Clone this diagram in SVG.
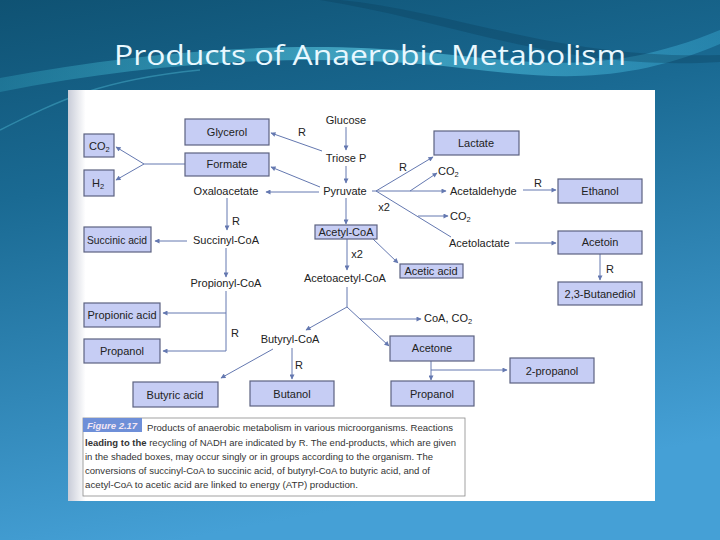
<svg xmlns="http://www.w3.org/2000/svg" width="720" height="540" viewBox="0 0 720 540">
<defs>
<linearGradient id="bg" x1="0" y1="0" x2="0.25" y2="1">
<stop offset="0" stop-color="#0f5273"/>
<stop offset="0.35" stop-color="#1a6a93"/>
<stop offset="1" stop-color="#45a0d6"/>
</linearGradient>
<linearGradient id="swoosh" x1="0" y1="0" x2="1" y2="0">
<stop offset="0" stop-color="#3fc0d8" stop-opacity="0.25"/>
<stop offset="0.5" stop-color="#5fd0e8" stop-opacity="0.6"/>
<stop offset="1" stop-color="#3fb8e0" stop-opacity="0.35"/>
</linearGradient>
<linearGradient id="scan" x1="0" y1="0" x2="1" y2="0">
<stop offset="0" stop-color="#c8ccd8"/>
<stop offset="0.03" stop-color="#ffffff"/>
<stop offset="1" stop-color="#ffffff"/>
</linearGradient>
<marker id="ah" viewBox="0 0 10 10" refX="9" refY="5" markerWidth="6" markerHeight="5" orient="auto" markerUnits="userSpaceOnUse">
<path d="M0,0 L10,5 L0,10 z" fill="#6478b0"/>
</marker>
<style>
.t{font-family:"Liberation Sans",Arial,sans-serif;font-size:11px;fill:#222}
.c{text-anchor:middle}
.box{fill:#c6cdf4;stroke:#5c6280;stroke-width:1.2}
.ln{fill:none;stroke:#6478b0;stroke-width:1}
.ar{fill:none;stroke:#6478b0;stroke-width:1;marker-end:url(#ah)}
.cap{font-family:"Liberation Sans",Arial,sans-serif;font-size:9.3px;fill:#333}
</style>
</defs>
<rect width="720" height="540" fill="url(#bg)"/>
<path d="M0,78 C150,50 300,40 420,52 C520,60 600,80 720,30 L720,44 C600,95 520,72 420,64 C300,54 150,62 0,92 Z" fill="url(#swoosh)"/>
<path d="M340,0 C450,10 560,60 720,55 L720,62 C560,72 450,20 320,0 Z" fill="#0b3f5c" opacity="0.35"/>
<path d="M0,130 C60,100 100,80 200,70" fill="none" stroke="#5fd0e8" stroke-opacity="0.35" stroke-width="1.5"/>
<text x="370" y="65" text-anchor="middle" font-family="Open Sans, DejaVu Sans, sans-serif" font-size="28" fill="#e9f8ff" textLength="512" lengthAdjust="spacingAndGlyphs">Products of Anaerobic Metabolism</text>
<rect x="68" y="90" width="587" height="411" fill="url(#scan)"/>

<g id="connectors">
<path class="ar" d="M346 127 V150"/>
<path class="ar" d="M346 166 V183"/>
<path class="ar" d="M346 198 V224"/>
<path class="ar" d="M322 151 L271 133"/>
<path class="ar" d="M320 187 L271 167"/>
<path class="ar" d="M319 192 H266"/>
<path class="ln" d="M185 164 H144"/>
<path class="ar" d="M144 164 L116 147"/>
<path class="ar" d="M144 164 L116 180"/>
<path class="ar" d="M227 198 V230"/>
<path class="ar" d="M187 241 H155"/>
<path class="ar" d="M226 248 V277"/>
<path class="ln" d="M226 291 V351"/>
<path class="ar" d="M226 313 H163"/>
<path class="ar" d="M226 351 H163"/>
<path class="ar" d="M376 191 L433 157"/>
<path class="ar" d="M372 191 H446"/>
<path class="ar" d="M410 191 L437 173"/>
<path class="ln" d="M376 191 L451 237"/>
<path class="ar" d="M418 216 H448"/>
<path class="ar" d="M523 190 H556"/>
<path class="ar" d="M515 243 H556"/>
<path class="ar" d="M600 254 V280"/>
<path class="ar" d="M373 239 L398 263"/>
<path class="ar" d="M347 239 V270"/>
<path class="ln" d="M347 287 V307"/>
<path class="ar" d="M347 307 L306 330"/>
<path class="ar" d="M347 307 L389 346"/>
<path class="ar" d="M360 319 H421"/>
<path class="ar" d="M292 348 V379"/>
<path class="ar" d="M273 349 L221 378"/>
<path class="ar" d="M431 361 V380"/>
<path class="ar" d="M431 370 H507"/>
</g>

<g id="labels">
<text class="t c" x="302" y="136">R</text>
<text class="t c" x="403" y="171">R</text>
<text class="t c" x="236" y="225">R</text>
<text class="t c" x="538" y="187">R</text>
<text class="t c" x="610" y="273">R</text>
<text class="t c" x="235" y="337">R</text>
<text class="t c" x="299" y="369">R</text>
<text class="t c" x="384" y="211">x2</text>
<text class="t c" x="357" y="258">x2</text>
</g>

<g id="glucose"><text class="t c" x="346" y="124">Glucose</text></g>
<g id="triose"><text class="t c" x="346" y="162">Triose P</text></g>
<g id="pyruvate"><text class="t c" x="345" y="195">Pyruvate</text></g>
<g id="oxaloacetate"><text class="t c" x="226" y="195">Oxaloacetate</text></g>
<g id="succinylcoa"><text class="t c" x="226" y="244">Succinyl-CoA</text></g>
<g id="propionylcoa"><text class="t c" x="226" y="287">Propionyl-CoA</text></g>
<g id="acetoacetylcoa"><text class="t c" x="345" y="282">Acetoacetyl-CoA</text></g>
<g id="butyrylcoa"><text class="t c" x="290" y="343">Butyryl-CoA</text></g>
<g id="co2a"><text class="t" x="438" y="175">CO<tspan font-size="7.5" dy="2">2</tspan></text></g>
<g id="acetaldehyde"><text class="t" x="450" y="195">Acetaldehyde</text></g>
<g id="co2b"><text class="t" x="450" y="220">CO<tspan font-size="7.5" dy="2">2</tspan></text></g>
<g id="acetolactate"><text class="t" x="449" y="247">Acetolactate</text></g>
<g id="coaco2"><text class="t" x="424" y="322">CoA, CO<tspan font-size="7.5" dy="2">2</tspan></text></g>

<g id="glycerol"><rect class="box" x="185" y="119" width="84" height="26"/><text class="t c" x="227" y="136">Glycerol</text></g>
<g id="formate"><rect class="box" x="185" y="153" width="84" height="23"/><text class="t c" x="227" y="168">Formate</text></g>
<g id="co2box"><rect class="box" x="84" y="134" width="30" height="23"/><text class="t" x="89" y="150">CO<tspan font-size="7.5" dy="2">2</tspan></text></g>
<g id="h2box"><rect class="box" x="84" y="170" width="30" height="26"/><text class="t" x="92" y="187">H<tspan font-size="7.5" dy="2">2</tspan></text></g>
<g id="succinic"><rect class="box" x="84" y="227" width="67" height="25"/><text class="t c" x="117" y="244" textLength="60" lengthAdjust="spacingAndGlyphs">Succinic acid</text></g>
<g id="propionic"><rect class="box" x="84" y="303" width="76" height="24"/><text class="t c" x="122" y="319">Propionic acid</text></g>
<g id="propanol1"><rect class="box" x="84" y="339" width="76" height="24"/><text class="t c" x="122" y="355">Propanol</text></g>
<g id="butyric"><rect class="box" x="133" y="382" width="85" height="25"/><text class="t c" x="175" y="399">Butyric acid</text></g>
<g id="butanol"><rect class="box" x="250" y="381" width="84" height="25"/><text class="t c" x="292" y="398">Butanol</text></g>
<g id="acetylcoa"><rect class="box" x="315" y="225" width="62" height="14"/><text class="t c" x="346" y="236">Acetyl-CoA</text></g>
<g id="aceticacid"><rect class="box" x="400" y="264" width="63" height="14"/><text class="t c" x="431" y="275">Acetic acid</text></g>
<g id="lactate"><rect class="box" x="434" y="131" width="85" height="24"/><text class="t c" x="476" y="147">Lactate</text></g>
<g id="ethanol"><rect class="box" x="558" y="179" width="84" height="24"/><text class="t c" x="600" y="195">Ethanol</text></g>
<g id="acetoin"><rect class="box" x="558" y="231" width="84" height="23"/><text class="t c" x="600" y="246">Acetoin</text></g>
<g id="butanediol"><rect class="box" x="558" y="282" width="84" height="23"/><text class="t c" x="600" y="298">2,3-Butanediol</text></g>
<g id="acetone"><rect class="box" x="390" y="336" width="84" height="25"/><text class="t c" x="432" y="352">Acetone</text></g>
<g id="propanol2"><rect class="box" x="391" y="381" width="83" height="25"/><text class="t c" x="432" y="398">Propanol</text></g>
<g id="twopropanol"><rect class="box" x="510" y="358" width="84" height="25"/><text class="t c" x="552" y="375">2-propanol</text></g>

<g id="caption">
<rect x="83" y="418" width="382" height="78" fill="#ffffff" stroke="#8a8a8a" stroke-width="0.8"/>
<rect x="83" y="418" width="59" height="14" fill="#6e8fd8"/>
<text x="87" y="429" font-family="Liberation Sans, Arial, sans-serif" font-size="9.5" font-weight="bold" font-style="italic" fill="#f3e6f3">Figure 2.17</text>
<text class="cap" x="147" y="431" textLength="306" lengthAdjust="spacingAndGlyphs">Products of anaerobic metabolism in various microorganisms. Reactions</text>
<text class="cap" x="85" y="446" textLength="371" lengthAdjust="spacingAndGlyphs"><tspan font-weight="bold">leading to the</tspan> recycling of NADH are indicated by R. The end-products, which are given</text>
<text class="cap" x="85" y="460" textLength="348" lengthAdjust="spacingAndGlyphs">in the shaded boxes, may occur singly or in groups according to the organism. The</text>
<text class="cap" x="85" y="474" textLength="345" lengthAdjust="spacingAndGlyphs">conversions of succinyl-CoA to succinic acid, of butyryl-CoA to butyric acid, and of</text>
<text class="cap" x="85" y="488" textLength="273" lengthAdjust="spacingAndGlyphs">acetyl-CoA to acetic acid are linked to energy (ATP) production.</text>
</g>
</svg>
